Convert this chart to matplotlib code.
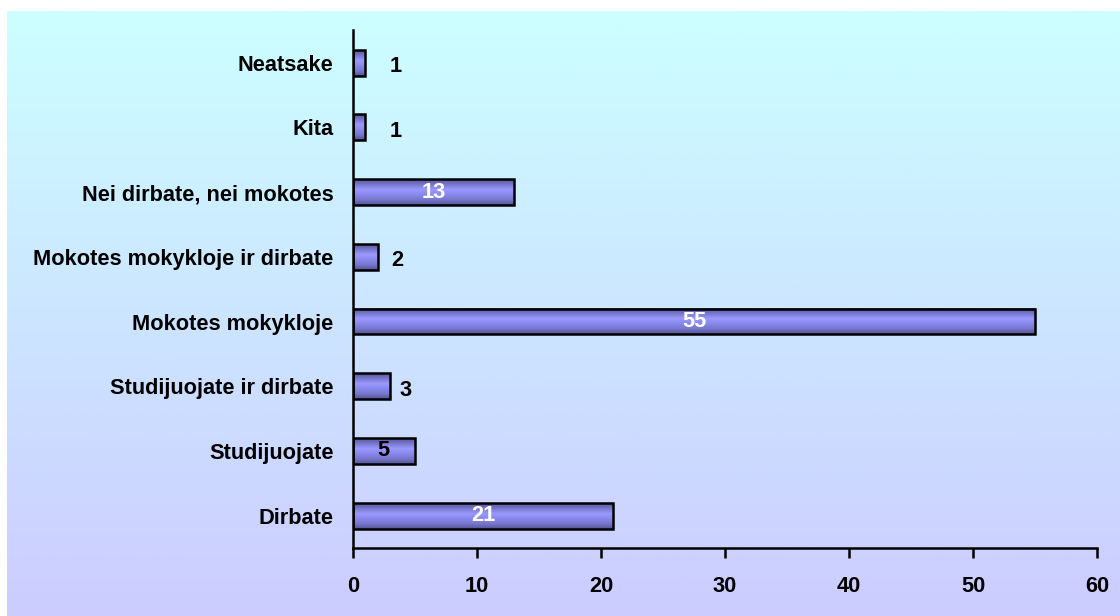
import numpy as np
import matplotlib.pyplot as plt
from matplotlib.colors import LinearSegmentedColormap

# survey answers, bottom to top
categories = ['Dirbate', 'Studijuojate', 'Studijuojate ir dirbate',
              'Mokotes mokykloje', 'Mokotes mokykloje ir dirbate',
              'Nei dirbate, nei mokotes', 'Kita', 'Neatsake']
values = [21, 5, 3, 55, 2, 13, 1, 1]
xticks = [0, 10, 20, 30, 40, 50, 60]

plt.rcParams['font.family'] = ['Liberation Sans', 'DejaVu Sans']
plt.rcParams['font.weight'] = 'bold'
fs = 15.7

fig = plt.figure(figsize=(11.2, 6.16), dpi=100)

# background panel with vertical gradient
bg = fig.add_axes([7 / 1120, 0, 1 - 7 / 1120, 1 - 11 / 616], zorder=0)
bg_cmap = LinearSegmentedColormap.from_list('bg', ['#ccccff', '#ccffff'])
bg.imshow(np.linspace(0, 1, 256)[::-1].reshape(-1, 1), cmap=bg_cmap,
          aspect='auto', extent=[0, 1, 0, 1])
bg.axis('off')

ax = fig.add_axes([0.315, 0.1104, 0.6647, 0.8403], zorder=1)
ax.patch.set_alpha(0)

bar_cmap = LinearSegmentedColormap.from_list(
    'bar', ['#555599', '#7777cc', '#9999ff', '#8888ee', '#7777cc', '#555599'])
grad = np.linspace(0, 1, 64).reshape(-1, 1)

y = np.arange(len(categories))
h = 0.4
bars = ax.barh(y, values, height=h, color='none', edgecolor='black',
               linewidth=1.8, zorder=3)
for yi, v in zip(y, values):
    ax.imshow(grad, cmap=bar_cmap, aspect='auto', zorder=2,
              extent=[0, v, yi - h / 2, yi + h / 2])

# value labels: inside the bar when there is room, otherwise to the right
outside_pad = {1: 30, 2: 20, 3: 16}
for yi, v in zip(y, values):
    if v >= 5:
        ax.text(v / 2, yi, str(v), ha='center', va='center', fontsize=fs,
                fontweight='bold', color='black' if v < 10 else 'white', zorder=4)
    else:
        ax.annotate(str(v), (v, yi), xytext=(outside_pad[v], -4),
                    textcoords='offset pixels', ha='center', va='center',
                    fontsize=fs, fontweight='bold', zorder=4)

ax.set_xlim(0, 60)
ax.set_ylim(-0.5, len(categories) - 0.5)
ax.set_xticks(xticks)
ax.set_yticks(y)
ax.set_yticklabels(categories)
ax.tick_params(axis='x', direction='out', length=7, width=1.8, pad=13, labelsize=fs)
ax.tick_params(axis='y', length=0, pad=14, labelsize=fs)
for lab in ax.get_xticklabels() + ax.get_yticklabels():
    lab.set_fontweight('bold')
for s in ['top', 'right']:
    ax.spines[s].set_visible(False)
for s in ['left', 'bottom']:
    ax.spines[s].set_linewidth(1.8)

fig.savefig('out.png', dpi=100)
